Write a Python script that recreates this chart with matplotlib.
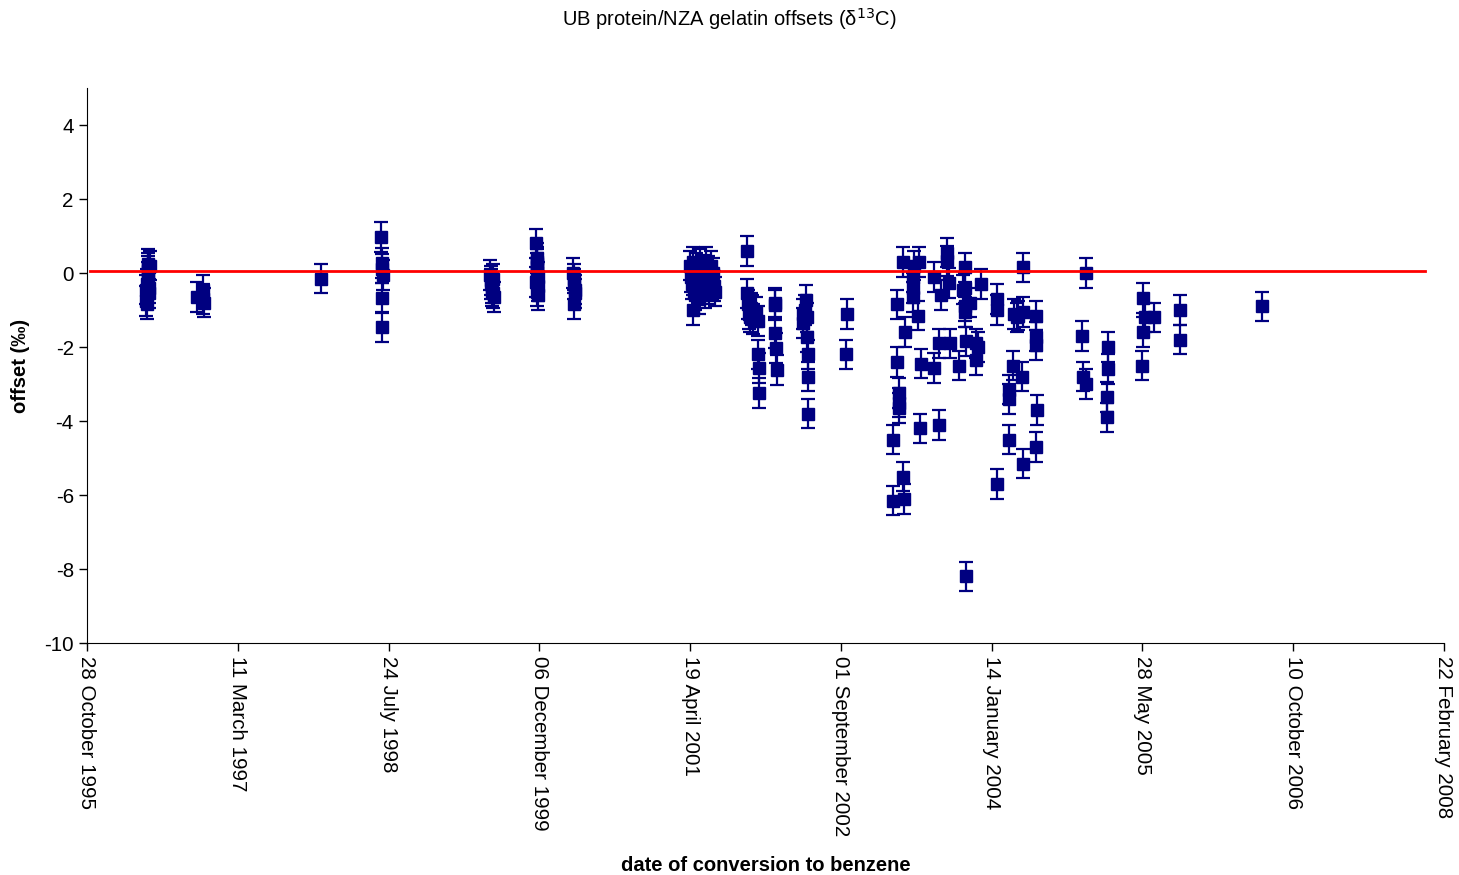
import matplotlib
matplotlib.use("Agg")
import matplotlib.pyplot as plt
import matplotlib.dates as mdates
import numpy as np
import pandas as pd

plt.rcParams["font.family"] = ["Liberation Sans", "DejaVu Sans"]
plt.rcParams["axes.unicode_minus"] = False

# conversion dates and UB protein - NZA gelatin offsets (per mil)
dates = [
    # 1996
    "1996-05-11", "1996-05-12", "1996-05-14", "1996-05-15", "1996-05-16", "1996-05-17",
    "1996-05-18", "1996-05-19", "1996-05-20", "1996-05-22", "1996-05-24",
    "1996-10-27", "1996-11-16", "1996-11-17", "1996-11-19",
    # 1997-1998
    "1997-12-12",
    "1998-06-29", "1998-07-02", "1998-07-03", "1998-07-05", "1998-07-01", "1998-07-03",
    # 1999-2000
    "1999-06-25", "1999-06-28", "1999-06-30", "1999-07-02", "1999-07-05", "1999-07-07",
    "1999-07-09", "1999-07-01",
    "1999-11-26", "1999-11-27", "1999-11-28", "1999-11-29", "1999-11-30", "1999-12-01",
    "1999-11-25", "1999-12-02", "1999-11-28", "1999-11-29", "1999-12-01",
    "2000-03-27", "2000-03-29", "2000-03-30", "2000-04-01", "2000-04-02", "2000-03-31",
    # 2001
    "2001-04-19", "2001-04-22", "2001-04-25", "2001-04-28", "2001-04-28", "2001-05-01",
    "2001-05-03", "2001-05-05", "2001-05-05", "2001-05-10", "2001-05-15", "2001-05-20",
    "2001-05-22", "2001-05-27", "2001-06-01", "2001-06-01", "2001-06-07", "2001-06-10",
    "2001-06-14", "2001-06-18", "2001-06-22", "2001-06-26", "2001-06-30", "2001-07-03",
    "2001-07-07", "2001-07-10",
    "2001-10-25", "2001-10-25", "2001-10-28", "2001-10-31", "2001-11-03", "2001-11-06",
    "2001-11-10", "2001-11-15", "2001-11-30", "2001-11-30", "2001-12-03", "2001-12-05",
    "2001-11-25",
    # 2002
    "2002-01-25", "2002-01-27", "2002-01-29", "2002-02-01", "2002-01-26",
    "2002-04-28", "2002-04-30", "2002-05-05", "2002-05-10", "2002-05-12", "2002-05-12",
    "2002-05-14", "2002-05-16", "2002-05-14",
    "2002-09-21", "2002-09-19",
    # 2003
    "2003-02-21", "2003-02-21", "2003-03-06", "2003-03-06", "2003-03-13", "2003-03-13",
    "2003-03-13", "2003-03-26", "2003-03-26", "2003-03-28", "2003-04-01", "2003-04-28",
    "2003-04-28", "2003-04-28", "2003-04-30", "2003-05-15", "2003-05-18", "2003-05-21",
    "2003-05-25", "2003-07-07", "2003-07-07", "2003-07-23", "2003-07-23", "2003-07-30",
    "2003-08-19", "2003-08-19", "2003-08-25", "2003-08-29", "2003-09-28", "2003-10-11",
    "2003-10-17", "2003-10-17", "2003-10-17", "2003-10-19", "2003-10-21", "2003-10-21",
    "2003-11-03", "2003-11-23", "2003-11-23", "2003-11-30", "2003-12-10",
    # 2004
    "2004-02-01", "2004-02-01", "2004-02-01", "2004-03-11", "2004-03-11", "2004-03-11",
    "2004-03-25", "2004-04-07", "2004-04-23", "2004-04-27", "2004-04-27", "2004-04-27",
    "2004-06-09", "2004-06-09", "2004-06-09", "2004-06-12", "2004-06-09",
    "2004-03-28", "2004-04-10",
    "2004-11-08", "2004-11-12", "2004-11-22", "2004-11-22",
    # 2005-2006
    "2005-02-03", "2005-02-03", "2005-01-30", "2005-01-30",
    "2005-05-30", "2005-06-05", "2005-07-05", "2005-05-30", "2005-05-26",
    "2005-09-29", "2005-09-29",
    "2006-06-28",
]

offsets = [
    -0.45, -0.75, -0.85, -0.3, 0.05, 0.25,
    -0.1, 0.15, -0.55, -0.4, 0.2,
    -0.65, -0.45, -0.7, -0.8,
    -0.15,
    0.98, 0.27, 0.12, -0.05, -0.67, -1.46,
    -0.05, -0.2, -0.3, -0.4, -0.15, -0.55,
    -0.65, -0.5,
    0.8, 0.4, 0.3, 0.15, 0.0, -0.1,
    -0.25, -0.35, -0.5, 0.25, -0.6,
    0.0, -0.15, -0.3, -0.45, -0.55, -0.85,
    0.2, -0.1, -0.3, 0.3, -1.0, -0.5,
    0.0, -0.2, -0.6, 0.15, -0.4, -0.7,
    0.25, -0.15, -0.35, 0.1, -0.55, 0.3,
    -0.25, 0.05, -0.45, 0.2, -0.3, 0.0,
    -0.35, -0.5,
    0.6, -0.55, -0.85, -1.1, -1.2, -0.95,
    -1.0, -1.25, -1.3, -2.2, -2.57, -3.25,
    -1.05,
    -0.87, -1.62, -2.03, -2.62, -0.8,
    -1.1, -1.35, -1.0, -0.73, -1.2, -1.73,
    -2.2, -2.8, -3.8,
    -1.1, -2.2,
    -4.5, -6.15, -0.85, -2.4, -3.25, -3.5,
    -3.65, 0.3, -5.5, -6.1, -1.6, -0.1,
    -0.4, -0.65, 0.2, -1.15, 0.3, -4.2,
    -2.45, -0.1, -2.57, -4.1, -1.9, -0.6,
    0.55, 0.33, -0.27, -1.9, -2.5, -0.45,
    0.15, -0.4, -0.9, -1.05, -1.85, -8.2,
    -0.8, -1.9, -2.35, -2.0, -0.3,
    -0.7, -1.0, -5.7, -3.15, -3.4, -4.5,
    -2.5, -1.2, -2.8, 0.15, -1.05, -5.15,
    -1.15, -1.72, -1.95, -3.7, -4.7,
    -1.1, -1.15,
    -1.7, -2.8, -3.0, 0.0,
    -2.0, -2.6, -3.35, -3.9,
    -0.68, -1.2, -1.2, -1.6, -2.5,
    -1.0, -1.8,
    -0.9,
]

errors = [0.4] * len(offsets)

# mean offset line
mean_dates = ["1995-11-07", "2007-12-21"]
mean_values = [0.05, 0.05]

x = pd.to_datetime(dates)

fig = plt.figure(figsize=(14.59, 8.75), dpi=100)
ax = fig.add_axes([0.0596, 0.2651, 0.9301, 0.6343])

ax.errorbar(x, offsets, yerr=errors, fmt="s", color="#000080", ecolor="#000080",
            markersize=8, elinewidth=1.6, capsize=5, capthick=1.6)
ax.plot(pd.to_datetime(mean_dates), mean_values, color="#ff0000", lw=2, zorder=3)

start = np.datetime64("1995-10-28")
ticks = start + np.arange(0, 4501, 500).astype("timedelta64[D]")
ax.set_xlim(start, ticks[-1])
ax.set_xticks(ticks)
ax.xaxis.set_major_formatter(mdates.DateFormatter("%d %B %Y"))
for lab in ax.get_xticklabels():
    lab.set_rotation(-90)
    lab.set_ha("center")
    lab.set_va("top")

ax.set_ylim(-10, 5)
ax.set_yticks(np.arange(-10, 5, 2))
ax.tick_params(axis="both", labelsize=14.8, direction="out", length=6, width=1)

for side in ["top", "right"]:
    ax.spines[side].set_visible(False)

ax.set_ylabel("offset (‰)", fontsize=14.5, fontweight="bold", labelpad=10)
ax.set_xlabel("date of conversion to benzene", fontsize=14.5, fontweight="bold", labelpad=14)
fig.suptitle("UB protein/NZA gelatin offsets (δ$^{13}$C)", fontsize=14.5, y=0.993)

fig.savefig("out.png", dpi=100)
